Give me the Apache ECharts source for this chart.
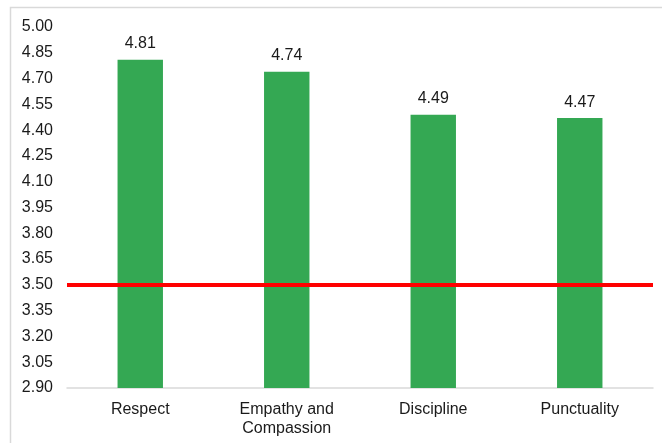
<!DOCTYPE html>
<html>
<head>
<meta charset="utf-8">
<script src="https://cdn.jsdelivr.net/npm/echarts@6/dist/echarts.min.js"></script>
<style>
  html, body { margin: 0; padding: 0; background: #fff; }
  #chart { width: 662px; height: 443px; }
</style>
</head>
<body>
<div id="chart"></div>
<script>
// Average rating per value category, with the 3.50 benchmark line
const categories = ['Respect', 'Empathy and\nCompassion', 'Discipline', 'Punctuality'];
const scores = [4.81, 4.74, 4.49, 4.47];
const benchmark = 3.5;
const yMin = 2.9, yMax = 5.0, yStep = 0.15;

const chart = echarts.init(document.getElementById('chart'), null, { renderer: 'canvas' });
const font = 'Liberation Sans, Arial, sans-serif';

chart.setOption({
  animation: false,
  backgroundColor: '#ffffff',
  graphic: [{
    type: 'rect',
    shape: { x: 10.5, y: 7.5, width: 700, height: 500 },
    style: { fill: 'none', stroke: '#d9d9d9', lineWidth: 1.5 },
    silent: true
  }],
  grid: { left: 67, right: 9, top: 27, bottom: 55 },
  xAxis: {
    type: 'category',
    data: categories,
    axisLine: { lineStyle: { color: '#d9d9d9', width: 1.5 } },
    axisTick: { show: false },
    axisLabel: { color: '#1a1a1a', fontSize: 16, fontFamily: font, margin: 12, lineHeight: 19 }
  },
  yAxis: {
    type: 'value',
    min: yMin,
    max: yMax,
    interval: yStep,
    splitLine: { show: false },
    axisLine: { show: false },
    axisTick: { show: false },
    axisLabel: {
      color: '#1a1a1a', fontSize: 16, fontFamily: font, margin: 14,
      formatter: v => v.toFixed(2)
    }
  },
  series: [{
    type: 'bar',
    data: scores,
    barWidth: '31%',
    itemStyle: { color: '#34a853' },
    label: {
      show: true, position: 'top', distance: 8,
      color: '#1a1a1a', fontSize: 16, fontFamily: font,
      formatter: p => p.value.toFixed(2)
    },
    markLine: {
      silent: true,
      symbol: 'none',
      label: { show: false },
      lineStyle: { color: '#ff0000', width: 4, type: 'solid' },
      data: [{ yAxis: benchmark }]
    }
  }]
});
</script>
</body>
</html>
